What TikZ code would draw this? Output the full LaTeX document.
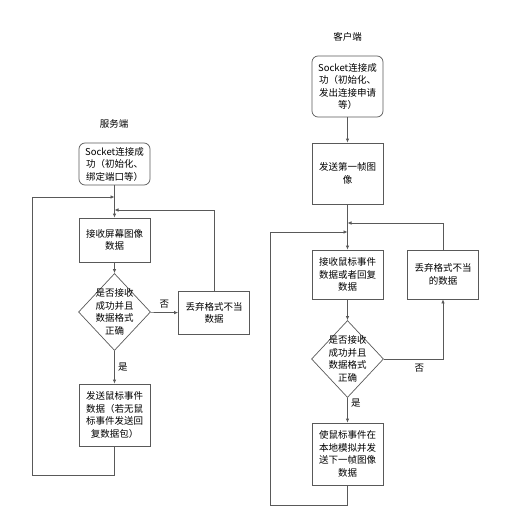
\documentclass[tikz,border=0pt]{standalone}
\usepackage{fontspec}
\setmainfont{Noto Sans CJK SC}
\usetikzlibrary{
    arrows.meta,        % For arrow tips
    shapes.geometric    % For the diamond decisions
}

\begin{document}
\begin{tikzpicture}[
    x=1pt, y=-1pt,
    font=\fontsize{9.5}{12.5}\selectfont,
    box/.style={draw=black!65, line width=0.7pt, minimum width=71pt, align=center, inner sep=1pt},
    startbox/.style={box, rounded corners=6pt},
    decide/.style={draw=black!65, line width=0.7pt, diamond, aspect=0.95, minimum width=72pt, minimum height=77pt, align=center, inner sep=-3pt},
    arr/.style={draw=black!65, line width=0.7pt, -{Latex[length=4pt, width=3.5pt]}},
    line/.style={draw=black!65, line width=0.7pt}
]
    \useasboundingbox (0,0) rectangle (510,532);

    % --- Server side ---
    \node (title_s) at (114,124) {服务端};
    \node[startbox, minimum height=42pt] (start_s) at (114.5,164) {Socket连接成\\功（初始化、\\绑定端口等）};
    \node[box, minimum height=44pt] (recv_s) at (114.5,240) {接收屏幕图像\\数据};
    \node[decide] (check_s) at (114.5,312) {是否接收\\成功并且\\数据格式\\正确};
    \node[box, minimum height=43pt] (drop_s) at (214,313) {丢弃格式不当\\数据};
    \node[box, minimum height=62pt] (send_s) at (114.5,415) {发送鼠标事件\\数据（若无鼠\\标事件发送回\\复数据包）};

    \coordinate (loop_s) at (114.5,197);
    \coordinate (back_s) at (114.5,210);

    \draw[arr] (start_s) -- (recv_s);
    \draw[arr] (recv_s) -- (check_s);
    \draw[arr] (check_s) -- node[above, yshift=1pt] {否} (drop_s);
    \draw[arr] (check_s) -- node[right] {是} (send_s);
    \draw[arr] (drop_s.north) |- (back_s);
    \draw[arr] (send_s.south) -- ++(0,29) -| ([xshift=-46pt]recv_s.west) |- (loop_s);

    % --- Client side ---
    \node (title_c) at (347.5,37) {客户端};
    \node[startbox, minimum height=61pt] (start_c) at (347.5,86.5) {Socket连接成\\功（初始化、\\发出连接申请\\等）};
    \node[box, minimum height=61pt] (first_c) at (347.5,173.5) {发送第一帧图\\像};
    \node[box, minimum height=49pt] (recv_c) at (347.5,274.5) {接收鼠标事件\\数据或者回复\\数据};
    \node[decide] (check_c) at (347.5,359) {是否接收\\成功并且\\数据格式\\正确};
    \node[box, minimum height=49pt] (drop_c) at (443,274.5) {丢弃格式不当\\的数据};
    \node[box, minimum height=62pt] (play_c) at (347.5,454) {使鼠标事件在\\本地模拟并发\\送下一帧图像\\数据};

    \coordinate (loop_c) at (347.5,232);
    \coordinate (back_c) at (347.5,223);

    \draw[arr] (start_c) -- (first_c);
    \draw[line] (first_c) -- (loop_c);
    \draw[arr] (loop_c) -- (recv_c);
    \draw[arr] (recv_c) -- (check_c);
    \draw[arr] (check_c) -| node[pos=0.3, below, yshift=-1pt] {否} (drop_c.south);
    \draw[arr] (check_c) -- node[right, pos=0.2] {是} (play_c);
    \draw[arr] (drop_c.north) |- (back_c);
    \draw[arr] (play_c.south) -- ++(0,20) -| ([xshift=-41pt]recv_c.west) |- (loop_c);
\end{tikzpicture}
\end{document}
